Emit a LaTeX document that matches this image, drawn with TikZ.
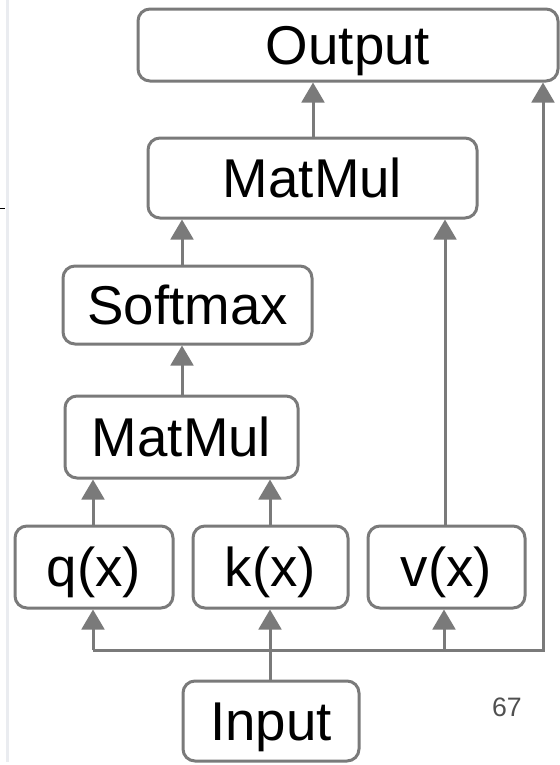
\documentclass[tikz,border=0pt]{standalone}
\usepackage{fontspec}
\setmainfont{Liberation Sans}
\usetikzlibrary{arrows.meta}
\definecolor{edge}{RGB}{122,122,122}
\definecolor{margin}{RGB}{234,236,240}
\definecolor{pagenum}{RGB}{80,80,80}
\begin{document}
\begin{tikzpicture}[x=0.75pt,y=-0.75pt,
  block/.style={draw=edge, line width=2.25pt, rounded corners=9pt, fill=white,
    inner sep=0pt, text height=29.5pt, text depth=0pt,
    font=\fontsize{41pt}{48pt}\selectfont, text=black},
  arr/.style={draw=edge, line width=2.25pt, line join=miter,
    -{Triangle[width=17pt,length=15pt]}}]
  % canvas
  \fill[white] (0,0) rectangle (560,765);
  \useasboundingbox (0,0) rectangle (560,765);
  % page margin rule and tick
  \draw[margin, line width=2.25pt] (7,0) -- (7,762);
  \draw[black, line width=0.75pt] (0,208) -- (5,208);

  % blocks
  \node[block, minimum width=315pt, minimum height=54pt] (out) at (348,45) {Output};
  \node[block, minimum width=246.75pt, minimum height=60pt] (mm1) at (312.5,178) {MatMul};
  \node[block, minimum width=186.75pt, minimum height=58.5pt] (sm) at (187.5,305) {Softmax};
  \node[block, minimum width=174.75pt, minimum height=61.5pt] (mm2) at (181.5,437) {MatMul};
  \node[block, minimum width=118.5pt, minimum height=61.5pt] (q) at (94,567) {q(x)};
  \node[block, minimum width=116.25pt, minimum height=61.5pt] (k) at (270.5,567) {k(x)};
  \node[block, minimum width=117.75pt, minimum height=61.5pt] (v) at (446.5,567) {v(x)};
  \node[block, minimum width=132pt, minimum height=60pt] (in) at (271,721) {Input};

  % page number
  \node[font=\fontsize{20pt}{24pt}\selectfont, text=pagenum] (pg) at (507,707) {67};

  % connector columns
  \coordinate (xa) at (313,0);
  \coordinate (xb) at (182,0);
  \coordinate (xc) at (93,0);
  \coordinate (xd) at (270,0);
  \coordinate (xe) at (445,0);
  \coordinate (busL) at (93,650);
  \coordinate (busV) at (444,650);
  \coordinate (busR) at (543,650);

  % connectors
  \draw[arr] (mm1.north -| xa) -- (out.south -| xa);
  \draw[arr] (sm.north -| xb) -- (mm1.south -| xb);
  \draw[arr] (mm2.north -| xb) -- (sm.south -| xb);
  \draw[arr] (q.north -| xc) -- (mm2.south -| xc);
  \draw[arr] (k.north -| xd) -- (mm2.south -| xd);
  \draw[arr] (v.north -| xe) -- (mm1.south -| xe);
  \draw[arr] (in.north -| xd) -- (k.south -| xd);
  \draw[arr] (busL) -- (busR) -- (out.south -| busR);
  \draw[arr] (busL) -- (q.south -| busL);
  \draw[arr] (busV) -- (v.south -| busV);
\end{tikzpicture}
\end{document}
